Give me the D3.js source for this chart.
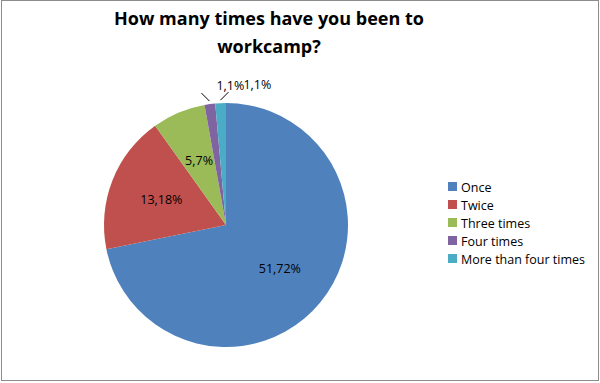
<!DOCTYPE html>
<html>
<head>
<meta charset="utf-8">
<script src="https://cdn.jsdelivr.net/npm/d3@7"></script>
<style>
  body { margin: 0; background: #fff; }
  text { font-family: "Open Sans", "Liberation Sans", sans-serif; fill: #000; }
</style>
</head>
<body>
<div id="chart"></div>
<script>
// data
var categories = ["Once", "Twice", "Three times", "Four times", "More than four times"];
var counts = [51, 13, 5, 1, 1];
var percents = [72, 18, 7, 1, 1];
var colors = ["#4F81BD", "#C0504D", "#9BBB59", "#8064A2", "#4BACC6"];
var titleLines = ["How many times have you been to", "workcamp?"];

var width = 600, height = 383;

var svg = d3.select("#chart").append("svg")
  .attr("width", width)
  .attr("height", height);

//frame
svg.append("rect")
  .attr("x", 1.5).attr("y", 0.5)
  .attr("width", width - 3).attr("height", height - 3)
  .style("fill", "#fff")
  .style("stroke", "#8c8c8c")
  .style("stroke-width", 1);

//title
svg.append("text")
  .attr("x", 269)
  .attr("y", 25)
  .style("text-anchor", "middle")
  .style("font-weight", "bold")
  .style("font-size", "18px")
  .selectAll("tspan")
  .data(titleLines)
  .enter().append("tspan")
  .attr("x", 269)
  .attr("dy", function(d, i) { return i === 0 ? 0 : 28; })
  .text(function(d) { return d; });

//pie
var radius = 122;
var cx = 226, cy = 225;
var data = categories.map(function(c, i) {
  return {name: c, count: counts[i], pct: percents[i], color: colors[i]};
});

var pie = d3.pie()
  .value(function(d) { return d.count; })
  .sort(null);

var arc = d3.arc().innerRadius(0).outerRadius(radius);
var labelArc = d3.arc().innerRadius(radius * 0.52).outerRadius(radius * 0.62);
var arcs = pie(data);

var g = svg.append("g")
  .attr("transform", "translate(" + cx + "," + cy + ")");

g.selectAll(".slice")
  .data(arcs)
  .enter().append("path")
  .attr("class", "slice")
  .attr("d", arc)
  .style("fill", function(d) { return d.data.color; });

var total = d3.sum(counts);
var inside = arcs.filter(function(d) { return d.data.count / total > 0.03; });
var outside = arcs.filter(function(d) { return d.data.count / total <= 0.03; });

g.selectAll(".inLabel")
  .data(inside)
  .enter().append("text")
  .attr("class", "inLabel")
  .attr("transform", function(d) { return "translate(" + labelArc.centroid(d) + ")"; })
  .attr("dy", "0.35em")
  .style("text-anchor", "middle")
  .style("font-size", "12.5px")
  .style("fill", "#000")
  .text(function(d) { return d.data.count + "," + d.data.pct + "%"; });

//small slices get a leader line and an outside label
function leader(d, k) {
  var a = (d.startAngle + d.endAngle) / 2;
  var r = radius + 3;
  var x0 = Math.sin(a) * r, y0 = -Math.cos(a) * r;
  var dir = k === 0 ? -1 : 1;
  return [[x0, y0], [x0 + dir * 8, y0 - 8]];
}

g.selectAll(".leader")
  .data(outside)
  .enter().append("path")
  .attr("class", "leader")
  .attr("d", function(d, k) { return d3.line()(leader(d, k)); })
  .style("stroke", "#000")
  .style("stroke-width", 1)
  .style("fill", "none");

g.selectAll(".outLabel")
  .data(outside)
  .enter().append("text")
  .attr("class", "outLabel")
  .attr("x", function(d, k) { return leader(d, k)[1][0] + 15; })
  .attr("y", function(d, k) { return leader(d, k)[1][1] - 3; })
  .style("font-size", "12.5px")
  .style("fill", "#000")
  .text(function(d) { return d.data.count + "," + d.data.pct + "%"; });

//legend
var legend = svg.append("g")
  .attr("transform", "translate(448,182)");

var rows = legend.selectAll(".legendRow")
  .data(data)
  .enter().append("g")
  .attr("class", "legendRow")
  .attr("transform", function(d, i) { return "translate(0," + (i * 18) + ")"; });

rows.append("rect")
  .attr("width", 9).attr("height", 9)
  .style("fill", function(d) { return d.color; });

rows.append("text")
  .attr("x", 13)
  .attr("y", 9.5)
  .style("font-size", "12.5px")
  .text(function(d) { return d.name; });
</script>
</body>
</html>
